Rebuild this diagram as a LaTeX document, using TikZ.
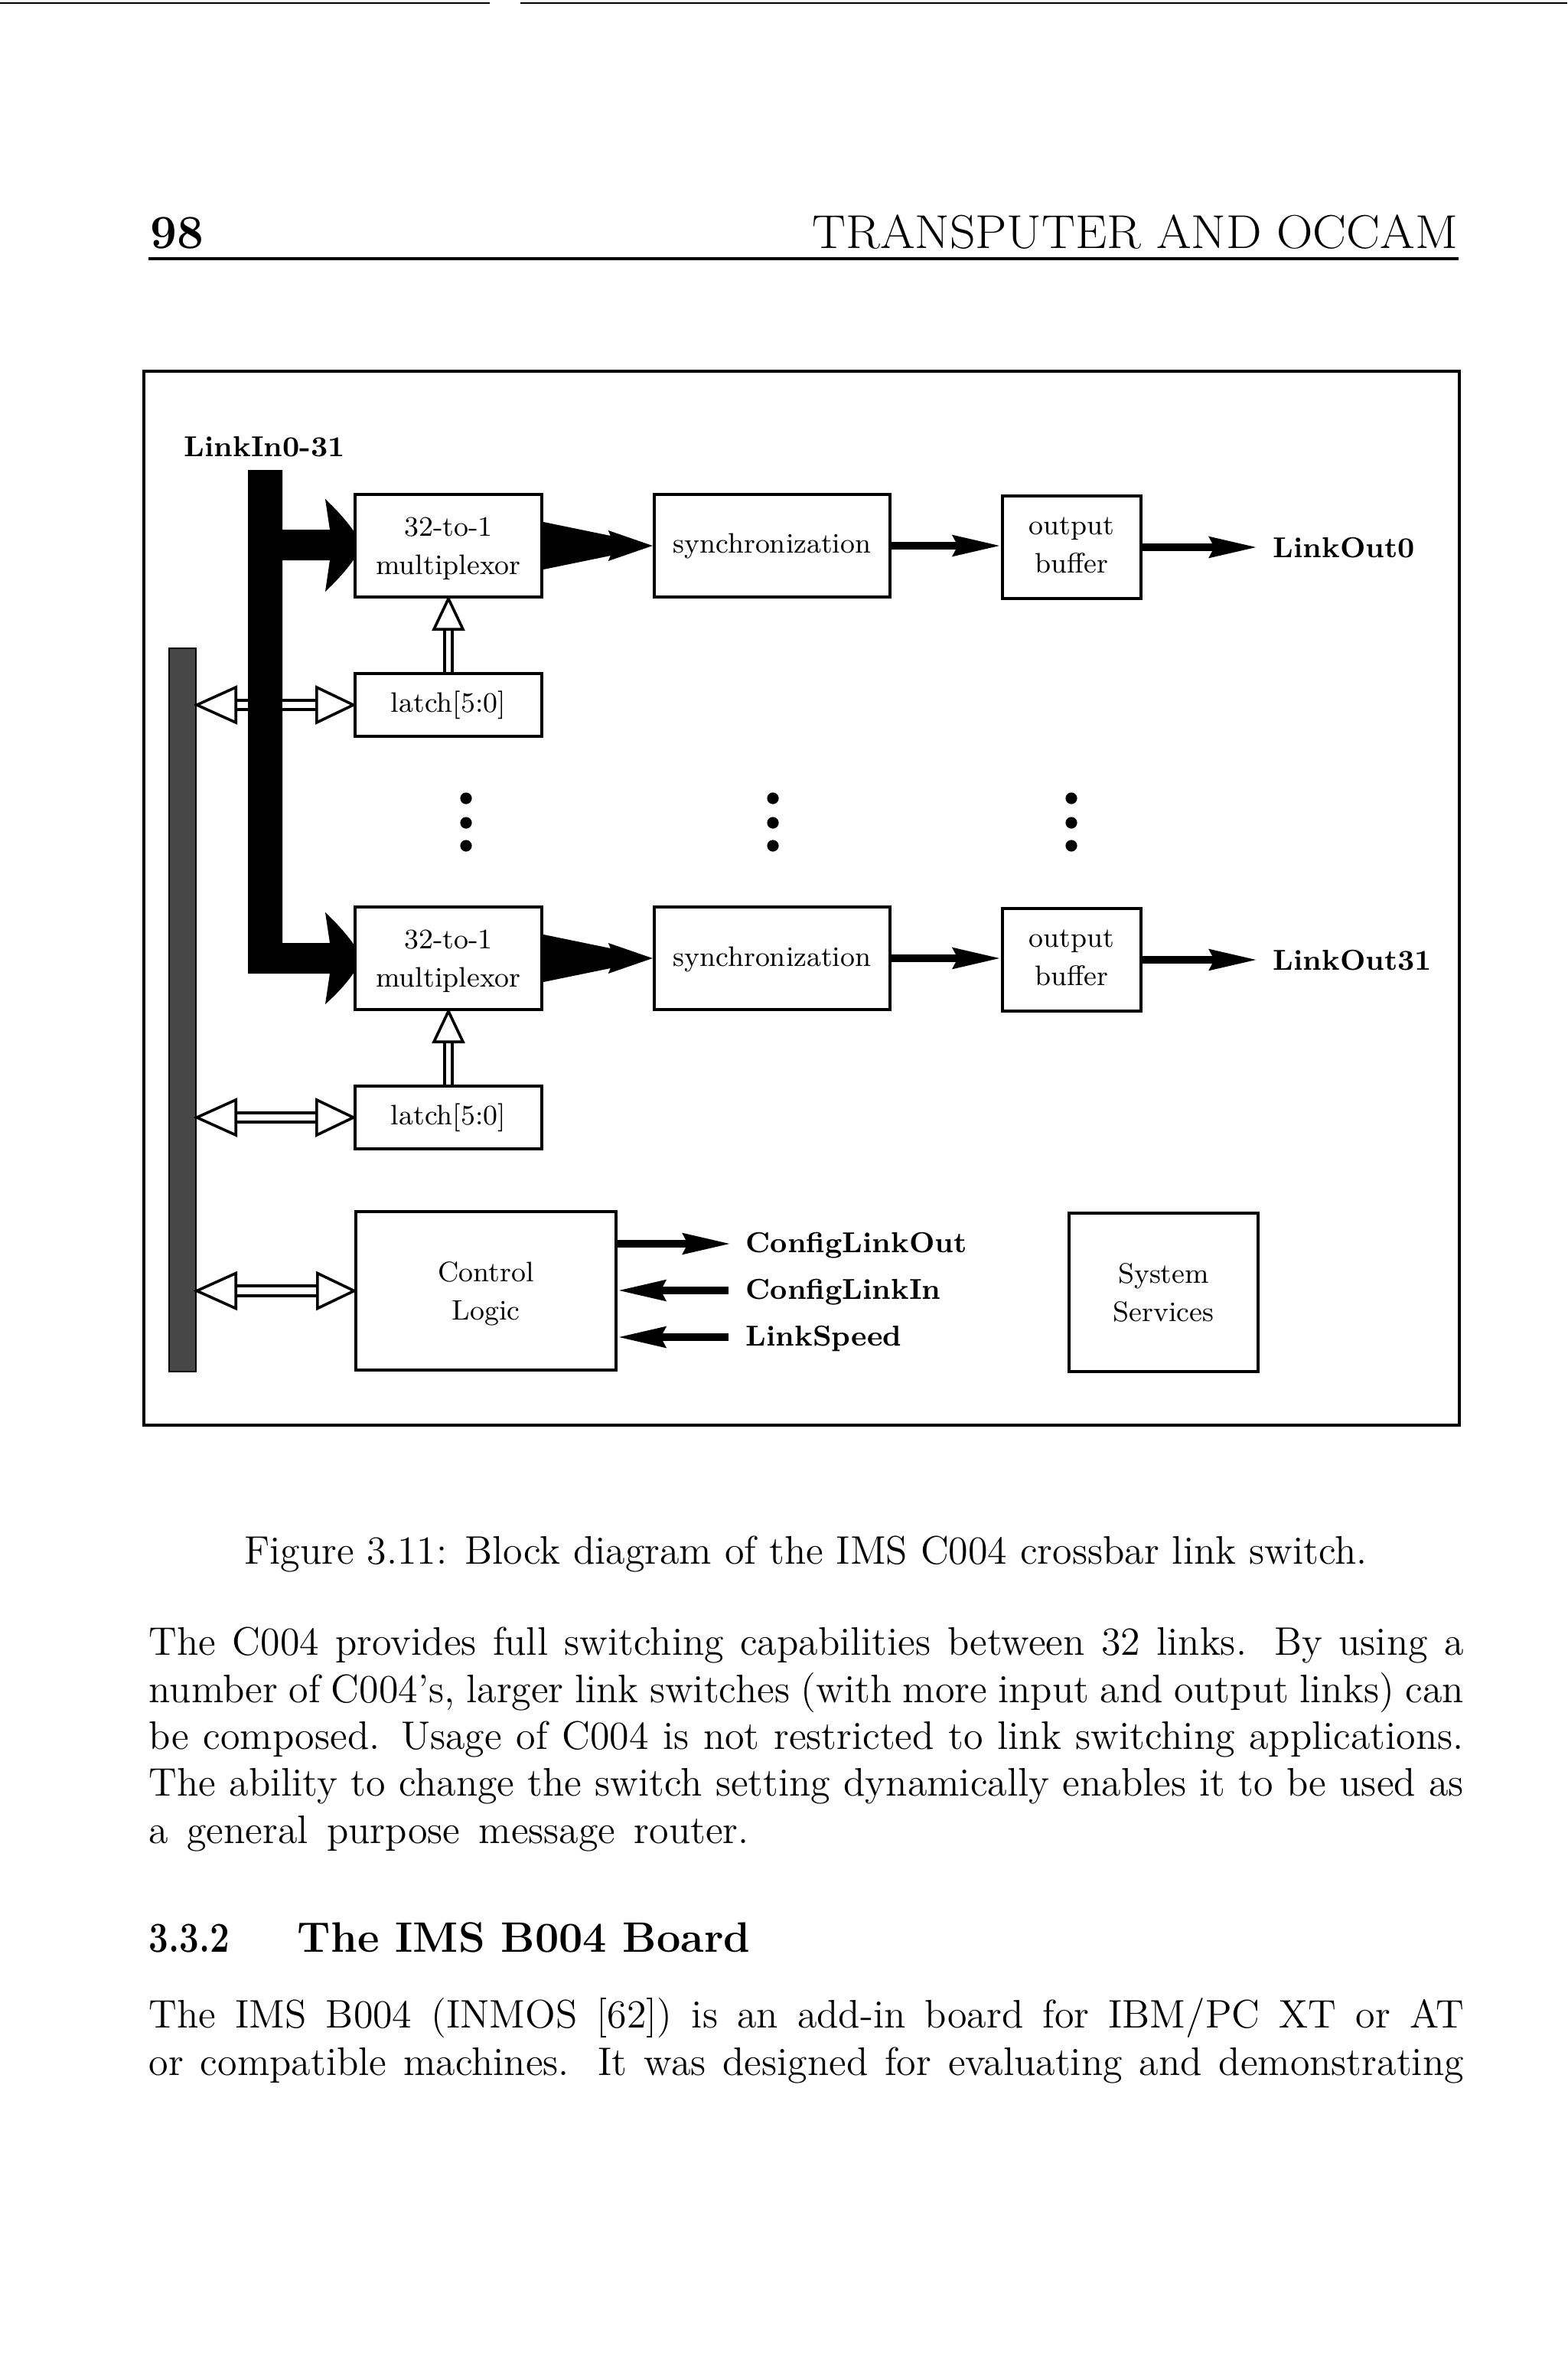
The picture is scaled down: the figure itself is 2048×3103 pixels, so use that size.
\documentclass[tikz,border=0pt]{standalone}
\usetikzlibrary{fit,calc,arrows.meta}
\newcommand{\lblfont}{\fontsize{9.2}{12.5}\selectfont}
\newcommand{\lblbold}{\fontsize{9.4}{12.5}\selectfont\bfseries}
\newcommand{\bodyfont}{\fontsize{13}{15.5}\selectfont}
\begin{document}
\begin{tikzpicture}[x=0.25pt,y=-0.25pt,
  blk/.style={draw, line width=1.1pt, inner sep=0pt},
  lbl/.style={inner sep=0pt, align=center, font=\lblfont},
  sig/.style={anchor=base west, inner sep=0pt, font=\lblbold},
  txt/.style={anchor=base west, inner sep=0pt, font=\bodyfont},
  sarrow/.style={line width=2.5pt, -{Stealth[length=15.5pt,width=6.6pt,inset=1.5pt]}},
  hshaft/.style={draw=black, double=white, double distance=2.1pt, line width=1pt},
  vshaft/.style={draw=black, double=white, double distance=1.6pt, line width=0.85pt},
  hhead/.style={fill=white, draw=black, line width=0.9pt, line join=miter},
  dot/.style={fill=black}
]
\useasboundingbox (0,0) rectangle (2048,3103);
\fill[white] (0,0) rectangle (2048,3103);
% scan edge line
\draw[line width=0.6pt] (0,4) -- (640,4);
\draw[line width=0.6pt] (680,4) -- (2048,4);

% header
\node[anchor=base west, inner sep=0pt, font=\fontsize{15.5}{18}\selectfont\bfseries] (pg) at (196,325) {98};
\node[anchor=base east, inner sep=0pt, xscale=1.06, transform shape, font=\fontsize{15.5}{18}\selectfont] (title) at (1906,325) {TRANSPUTER AND OCCAM};
\draw[line width=1pt] (194,338) -- (1906,338);

% frame
\node[fit={(188,485) (1907,1862)}, inner sep=0pt, draw, line width=0.8pt] (frame) {};

% gray bus
\node[fit={(221,847) (256,1792)}, inner sep=0pt, fill=black!72, draw=black, line width=0.6pt] (bar) {};

% boxes
\node[blk, fit={(464,646) (708,780)}] (mux1) {};
\node[blk, fit={(855,646) (1163,780)}] (sync1) {};
\node[blk, fit={(1310,648) (1491,782)}] (buf1) {};
\node[blk, fit={(464,880) (708,962)}] (latch1) {};

\node[blk, fit={(464,1185) (708,1319)}] (mux2) {};
\node[blk, fit={(855,1185) (1163,1319)}] (sync2) {};
\node[blk, fit={(1310,1187) (1491,1321)}] (buf2) {};
\node[blk, fit={(464,1419) (708,1501)}] (latch2) {};

\node[blk, fit={(465,1583) (805,1790)}] (ctrl) {};
\node[blk, fit={(1397,1585) (1644,1792)}] (sys) {};

% box texts
\node[lbl] (mux1t) at ($(mux1.center)+(0,4)$) {32-to-1\\multiplexor};
\node[lbl] (sync1t) at ($(sync1.center)+(0,1)$) {synchronization};
\node[lbl] (buf1t) at ($(buf1.center)+(0,-3)$) {output\\buffer};
\node[lbl] (latch1t) at (latch1.center) {latch[5:0]};
\node[lbl] (mux2t) at ($(mux2.center)+(0,4)$) {32-to-1\\multiplexor};
\node[lbl] (sync2t) at ($(sync2.center)+(0,1)$) {synchronization};
\node[lbl] (buf2t) at ($(buf2.center)+(0,-3)$) {output\\buffer};
\node[lbl] (latch2t) at (latch2.center) {latch[5:0]};
\node[lbl] (ctrlt) at ($(ctrl.center)+(0,4)$) {Control\\Logic};
\node[lbl] (syst) at (sys.center) {System\\Services};

% signal labels
\node[sig] (lin) at (240,597) {LinkIn0-31};
\node[sig] (lo0) at (1663,728) {LinkOut0};
\node[sig] (lo31) at (1663,1267) {LinkOut31};
\node[sig] (cfo) at (974,1636) {ConfigLinkOut};
\node[sig] (cfi) at (974,1697) {ConfigLinkIn};
\node[sig] (lsp) at (974,1758) {LinkSpeed};

% black input bus with branches
\fill[black] (324,614) -- (369,614) -- (369,692) -- (431,692) -- (425,652)
  .. controls (442,668) and (454,682) .. (463,695) -- (463,730)
  .. controls (454,743) and (442,757) .. (425,773) -- (431,732) -- (369,732)
  -- (369,1232) -- (431,1232) -- (425,1192)
  .. controls (442,1208) and (454,1222) .. (463,1235) -- (463,1270)
  .. controls (454,1283) and (442,1297) .. (425,1312) -- (431,1272) -- (324,1272) -- cycle;

% multiplexor -> synchronization wedges
\fill[black] ($(mux1.east)+(0,-31)$) -- ($(sync1.west)+(-55,-13)$) -- ($(sync1.west)+(-58,-20)$)
  -- (sync1.west) -- ($(sync1.west)+(-58,20)$) -- ($(sync1.west)+(-55,13)$) -- ($(mux1.east)+(0,31)$) -- cycle;
\fill[black] ($(mux2.east)+(0,-31)$) -- ($(sync2.west)+(-55,-13)$) -- ($(sync2.west)+(-58,-20)$)
  -- (sync2.west) -- ($(sync2.west)+(-58,20)$) -- ($(sync2.west)+(-55,13)$) -- ($(mux2.east)+(0,31)$) -- cycle;

% sync -> buffer -> output
\draw[sarrow] (sync1.east) -- (sync1.east -| buf1.west);
\draw[sarrow] (sync2.east) -- (sync2.east -| buf2.west);
\draw[sarrow] (buf1.east) -- ([xshift=-5pt]buf1.east -| lo0.west);
\draw[sarrow] (buf2.east) -- ([xshift=-5pt]buf2.east -| lo31.west);

% control logic signals
\coordinate (cfoE) at (955,1625);
\coordinate (cfiS) at (952,1686);
\coordinate (lspS) at (952,1747);
\draw[sarrow] (ctrl.east |- cfoE) -- (cfoE);
\draw[sarrow] (cfiS) -- (cfiS -| ctrl.east);
\draw[sarrow] (lspS) -- (lspS -| ctrl.east);

% latch -> multiplexor hollow arrows
\draw[vshaft] (latch1.north) -- ($(mux1.south)+(0,42)$);
\draw[hhead] (mux1.south) -- ++(-19,40) -- ++(38,0) -- cycle;
\draw[vshaft] (latch2.north) -- ($(mux2.south)+(0,42)$);
\draw[hhead] (mux2.south) -- ++(-19,40) -- ++(38,0) -- cycle;

% bus <-> latch / control hollow double arrows
\foreach \b in {latch1,latch2,ctrl}{
  \draw[hshaft] ($(bar.east |- \b.west)+(47,0)$) -- ($(\b.west)+(-45,0)$);
  \draw[hhead] (bar.east |- \b.west) -- ++(51,-23) -- ++(0,46) -- cycle;
  \draw[hhead] (\b.west) -- ++(-48,-23) -- ++(0,46) -- cycle;
}
% redraw bus over latch1 arrow shaft
\fill[black] (324,895) rectangle (369,950);

% dots
\foreach \x in {609,1010,1400}{
  \foreach \y in {1043,1075,1105}{
    \fill[dot] (\x,\y) circle[radius=1.9pt];
  }
}

% caption and text
\node[anchor=base, inner sep=0pt, font=\fontsize{13}{15.5}\selectfont] (cap) at (1053,2043) {Figure 3.11: Block diagram of the IMS C004 crossbar link switch.};

\node[txt] (p1) at (194,2162) {\makebox[429.5pt][s]{The C004 provides full switching capabilities between 32 links. By using a}};
\node[txt] (p2) at (194,2224) {\makebox[429.5pt][s]{number of C004's, larger link switches (with more input and output links) can}};
\node[txt] (p3) at (194,2285) {\makebox[429.5pt][s]{be composed. Usage of C004 is not restricted to link switching applications.}};
\node[txt] (p4) at (194,2346) {\makebox[429.5pt][s]{The ability to change the switch setting dynamically enables it to be used as}};
\node[txt] (p5) at (194,2408) {\makebox[196pt][s]{a general purpose message router.}};

\node[anchor=base west, inner sep=0pt, xscale=0.82, transform shape, font=\fontsize{13.9}{16.5}\selectfont\bfseries] (secnum) at (194,2550) {3.3.2};
\node[anchor=base west, inner sep=0pt, font=\fontsize{13.9}{16.5}\selectfont\bfseries] (sectitle) at (388,2550) {The IMS B004 Board};

\node[txt] (q1) at (194,2649) {\makebox[429.5pt][s]{The IMS B004 (INMOS [62]) is an add-in board for IBM/PC XT or AT}};
\node[txt] (q2) at (194,2711) {\makebox[429.5pt][s]{or compatible machines. It was designed for evaluating and demonstrating}};
\end{tikzpicture}
\end{document}
